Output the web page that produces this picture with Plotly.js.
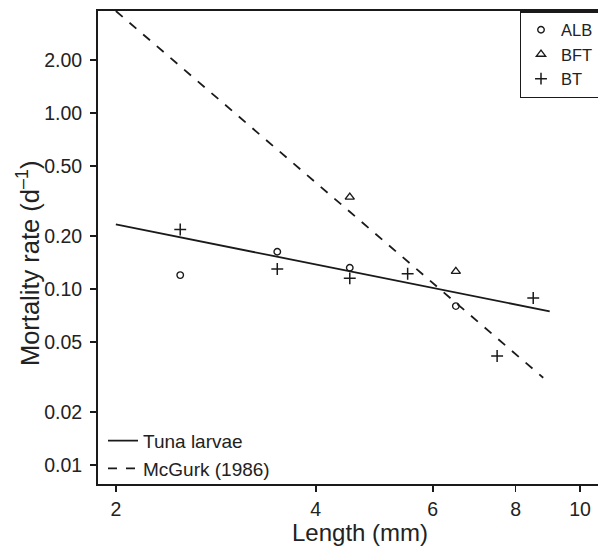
<!DOCTYPE html>
<html>
<head>
<meta charset="utf-8">
<script src="https://cdn.plot.ly/plotly-3.0.1.min.js"></script>
<style>html,body{margin:0;padding:0;background:#fff;}#chart{width:598px;height:548px;}</style>
</head>
<body>
<div id="chart"></div>
<script>
// Species observations (length in mm, mortality rate per day)
const albLength = [2.5, 3.5, 4.5, 6.5];
const albMortality = [0.12, 0.163, 0.132, 0.080];
const bftLength = [4.5, 6.5];
const bftMortality = [0.333, 0.126];
const btLength = [2.5, 3.5, 4.5, 5.5, 7.5, 8.5];
const btMortality = [0.218, 0.130, 0.115, 0.122, 0.0416, 0.089];
// Fitted lines (endpoints)
const tunaLength = [2, 9];
const tunaMortality = [0.233, 0.0747];
const mcgurkLength = [2, 8.8];
const mcgurkMortality = [3.8, 0.0313];
// Tick labels
const yTickVals = [0.01, 0.02, 0.05, 0.1, 0.2, 0.5, 1, 2];
const yTickText = ['0.01', '0.02', '0.05', '0.10', '0.20', '0.50', '1.00', '2.00'];
const xTickVals = [2, 4, 6, 8, 10];
const xTickText = ['2', '4', '6', '8', '10'];

const font = 'Liberation Sans, Arial, Helvetica, sans-serif';
const ink = '#1a1a1a';

const traces = [
  {x: tunaLength, y: tunaMortality, mode: 'lines', name: 'Tuna larvae',
   line: {color: ink, width: 1.8}, legend: 'legend2'},
  {x: mcgurkLength, y: mcgurkMortality, mode: 'lines', name: 'McGurk (1986)',
   line: {color: ink, width: 1.8, dash: '9px,9px'}, legend: 'legend2'},
  {x: albLength, y: albMortality, mode: 'markers', name: 'ALB',
   marker: {symbol: 'circle-open', size: 6.5, color: ink, line: {width: 1.4}}},
  {x: bftLength, y: bftMortality, mode: 'markers', name: 'BFT',
   marker: {symbol: 'triangle-up-open', size: 8, color: ink, line: {width: 1.4}}},
  {x: btLength, y: btMortality, mode: 'markers', name: 'BT',
   marker: {symbol: 'cross-thin-open', size: 8.5, color: ink, line: {width: 1.5, color: ink}}}
];

const layout = {
  width: 598, height: 548,
  margin: {l: 98, r: 0, t: 11, b: 64, autoexpand: false},
  paper_bgcolor: '#fff', plot_bgcolor: '#fff',
  font: {family: font, color: '#222', size: 16},
  showlegend: true,
  xaxis: {
    type: 'log', range: [Math.log10(1.88), Math.log10(10.64)],
    tickvals: xTickVals, ticktext: xTickText, automargin: false,
    ticks: 'outside', ticklen: 6, tickwidth: 1.5, tickcolor: ink,
    showline: true, linecolor: ink, linewidth: 2, mirror: true,
    showgrid: false, zeroline: false, ticklabelstandoff: 1,
    tickfont: {size: 19.5, family: font, color: '#222'}
  },
  yaxis: {
    type: 'log', range: [Math.log10(0.0078), Math.log10(3.8)],
    tickvals: yTickVals, ticktext: yTickText, automargin: false,
    ticks: 'outside', ticklen: 6, tickwidth: 1.5, tickcolor: ink,
    showline: true, linecolor: ink, linewidth: 2, mirror: false,
    showgrid: false, zeroline: false, ticklabelstandoff: 4,
    tickfont: {size: 19.5, family: font, color: '#222'}
  },
  annotations: [
    {text: 'Length (mm)', xref: 'paper', yref: 'paper', x: 0.524, y: -0.1015,
     xanchor: 'center', yanchor: 'middle', showarrow: false,
     font: {size: 24, family: font, color: '#222'}},
    {text: 'Mortality rate (d<sup>–1</sup>)', xref: 'paper', yref: 'paper', x: -0.14, y: 0.467,
     xanchor: 'center', yanchor: 'middle', showarrow: false, textangle: -90,
     font: {size: 25.5, family: font, color: '#222'}}
  ],
  legend: {
    x: 1.003, xanchor: 'right', y: 1, yanchor: 'top',
    bordercolor: ink, borderwidth: 1.5, bgcolor: '#fff',
    font: {size: 16.5, family: font, color: '#222'}, tracegroupgap: 0
  },
  legend2: {
    x: 0.01, xanchor: 'left', y: -0.008, yanchor: 'bottom',
    borderwidth: 0, bgcolor: 'rgba(0,0,0,0)', tracegroupgap: 0,
    font: {size: 19, family: font, color: '#222'}
  }
};

Plotly.newPlot('chart', traces, layout, {displayModeBar: false, staticPlot: true});
</script>
</body>
</html>
